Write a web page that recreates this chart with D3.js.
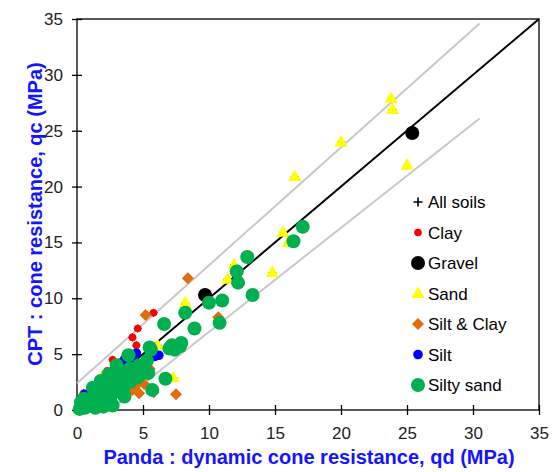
<!DOCTYPE html>
<html>
<head>
<meta charset="utf-8">
<script src="https://cdn.jsdelivr.net/npm/d3@7"></script>
<style>
  body { margin: 0; background: #fff; }
  svg text { font-family: "Liberation Sans", Arial, sans-serif; }
</style>
</head>
<body>
<div id="chart"></div>
<script>
// data : [qd (Panda), qc (CPT)] in MPa
var clay = [[5.8,8.7],[4.6,7.3],[4.2,6.5],[4.5,5.8],[2.7,4.5],[3.6,3.8],[1.6,2.7],[2.3,3.5],
  [0.5,1.5],[3.1,3.2],[1.2,2.0],[2.0,2.1],[0.9,1.1],[3.8,4.4]];
var gravel = [[25.4,24.8],[9.7,10.3]];
var sand = [[23.8,27.9],[23.9,26.9],[20.0,24.0],[16.5,20.9],[25.0,21.9],[15.6,15.9],[16.0,15.0],
  [14.8,12.3],[11.9,13.0],[11.4,11.7],[8.2,9.6],[7.3,2.9],[6.1,5.8],[1.9,3.0],[0.1,0.1]];
var siltClay = [[8.4,11.8],[10.7,8.3],[5.2,8.5],[7.5,1.4],[5.5,3.7],[5.8,1.6],[4.4,2.1],[4.7,1.5],
  [5.1,2.3],[4.2,1.8],[4.8,3.0],[3.8,1.6]];
var silt = [[3.6,4.5],[4.5,5.1],[5.9,4.8],[3.3,4.2],[5.2,3.6],[0.6,1.4],[6.2,4.9],[4.2,4.6],[1.0,0.8]];
var siltySand = [[17.1,16.4],[16.4,15.1],[12.9,13.7],[12.1,12.4],[12.2,11.4],[13.3,10.3],[11.0,9.8],
  [10.0,9.6],[8.2,8.7],[8.9,7.3],[10.8,7.8],[7.9,6.0],[6.6,7.7],[7.4,5.4],[7.8,5.7],[7.0,5.5],
  [6.7,2.8],[5.7,1.8],[5.5,5.6],[7.2,5.8],[3.9,4.9],
  [0.2,0.1],[0.4,0.3],[0.6,0.2],[0.8,0.6],[1.0,0.4],[1.0,1.0],[1.2,0.8],[1.4,1.3],[1.5,0.5],
  [1.6,1.7],[1.8,1.1],[2.0,1.6],[2.0,2.2],[2.2,0.7],[2.3,1.9],[2.5,2.6],[2.6,1.3],[2.7,0.4],
  [2.8,2.2],[3.0,3.0],[3.0,1.7],[3.2,2.6],[3.4,3.4],[3.5,2.0],[3.6,1.2],[3.8,3.0],[4.0,3.7],
  [4.0,2.5],[4.3,3.3],[4.7,4.0],[4.6,2.9],[4.9,3.8],[5.3,4.4],[5.4,3.3],[1.2,2.0],[1.8,2.6],
  [2.4,3.2],[0.5,1.0],[3.0,4.0],[5.6,5.4],[0.3,0.7],[1.4,0.2],[2.0,0.3]];
var oneToOne = [[0,0],[35,35]];
var upperBand = [[0,2.4],[30.5,34.6]];
var lowerBand = [[2.5,0],[30.5,26.1]];
var ticks = [0,5,10,15,20,25,30,35];
var legendLabels = ["All soils","Clay","Gravel","Sand","Silt & Clay","Silt","Silty sand"];

var width = 554, height = 472;
var svg = d3.select('#chart').append('svg')
  .attr('width', width).attr('height', height);

var x = d3.scaleLinear().domain([0,35]).range([77,539]);
var y = d3.scaleLinear().domain([0,35]).range([410,19]);

// frame
svg.append('rect')
  .attr('x', x(0)).attr('y', y(35))
  .attr('width', x(35) - x(0)).attr('height', y(0) - y(35))
  .attr('fill', 'none').attr('stroke', '#000').attr('stroke-width', 1.3);

// axes (ticks crossing the axis line)
var xAxis = svg.append('g')
  .attr('transform', 'translate(0,' + y(0) + ')')
  .call(d3.axisBottom(x).tickValues(ticks).tickSize(5).tickPadding(12));
xAxis.selectAll('.tick line').attr('y1', -5).attr('y2', 5);
var yAxis = svg.append('g')
  .attr('transform', 'translate(' + x(0) + ',0)')
  .call(d3.axisLeft(y).tickValues(ticks).tickSize(5).tickPadding(9));
yAxis.selectAll('.tick line').attr('x1', -5).attr('x2', 5);
[xAxis, yAxis].forEach(function (g) {
  g.select('.domain').remove();
  g.selectAll('.tick line').attr('stroke', '#000').attr('stroke-width', 1.3);
  g.selectAll('.tick text').attr('font-size', 17).attr('fill', '#222')
    .style('font-family', '"Liberation Sans", Arial, sans-serif');
});

// reference lines
var line = d3.line().x(function (d) { return x(d[0]); }).y(function (d) { return y(d[1]); });
[upperBand, lowerBand].forEach(function (d) {
  svg.append('path').attr('d', line(d)).attr('fill', 'none')
    .attr('stroke', '#c8c8c8').attr('stroke-width', 2);
});
svg.append('path').attr('d', line(oneToOne)).attr('fill', 'none')
  .attr('stroke', '#000').attr('stroke-width', 2);

// markers
var plusPath = function (s) { return 'M' + (-s) + ',0H' + s + 'M0,' + (-s) + 'V' + s; };
var series = [
  { name: 'Clay', data: clay, draw: function (g) { g.append('circle').attr('r', 3.8).attr('fill', '#ff0000'); } },
  { name: 'Gravel', data: gravel, draw: function (g) { g.append('circle').attr('r', 7).attr('fill', '#000'); } },
  { name: 'Sand', data: sand, draw: function (g) { g.append('path').attr('d', 'M0,-7L6.5,4.5L-6.5,4.5Z').attr('fill', '#ffff00'); } },
  { name: 'Silt & Clay', data: siltClay, draw: function (g) { g.append('path').attr('d', 'M0,-6L6,0L0,6L-6,0Z').attr('fill', '#e26b0a'); } },
  { name: 'Silt', data: silt, draw: function (g) { g.append('circle').attr('r', 4.8).attr('fill', '#0000ff'); } },
  { name: 'Silty sand', data: siltySand, draw: function (g) { g.append('circle').attr('r', 7).attr('fill', '#00b050'); } }
];

// "All soils" pluses under every point
var allPoints = d3.merge(series.map(function (s) { return s.data; }));
svg.append('g').selectAll('path').data(allPoints).enter().append('path')
  .attr('transform', function (d) { return 'translate(' + x(d[0]) + ',' + y(d[1]) + ')'; })
  .attr('d', plusPath(4)).attr('stroke', '#000').attr('stroke-width', 1);

series.forEach(function (s) {
  svg.append('g').selectAll('g').data(s.data).enter().append('g')
    .attr('transform', function (d) { return 'translate(' + x(d[0]) + ',' + y(d[1]) + ')'; })
    .each(function () { s.draw(d3.select(this)); });
});

// legend
var legend = svg.append('g');
legendLabels.forEach(function (label, i) {
  var row = legend.append('g').attr('transform', 'translate(418,' + (202 + i * 30.5) + ')');
  if (i === 0) {
    row.append('path').attr('d', plusPath(4.5)).attr('stroke', '#000').attr('stroke-width', 1.6);
  } else {
    series[i - 1].draw(row);
  }
  row.append('text').attr('x', 10).attr('y', 6).attr('font-size', 17).attr('fill', '#000').text(label);
});

// axis titles
svg.append('text')
  .attr('x', 309).attr('y', 464).attr('text-anchor', 'middle')
  .attr('font-size', 20).attr('font-weight', 'bold').attr('fill', '#1414ff')
  .text('Panda : dynamic cone resistance, qd (MPa)');
svg.append('text')
  .attr('transform', 'translate(42,214) rotate(-90)').attr('text-anchor', 'middle')
  .attr('font-size', 20).attr('font-weight', 'bold').attr('fill', '#1414ff')
  .text('CPT : cone resistance, qc (MPa)');
</script>
</body>
</html>
